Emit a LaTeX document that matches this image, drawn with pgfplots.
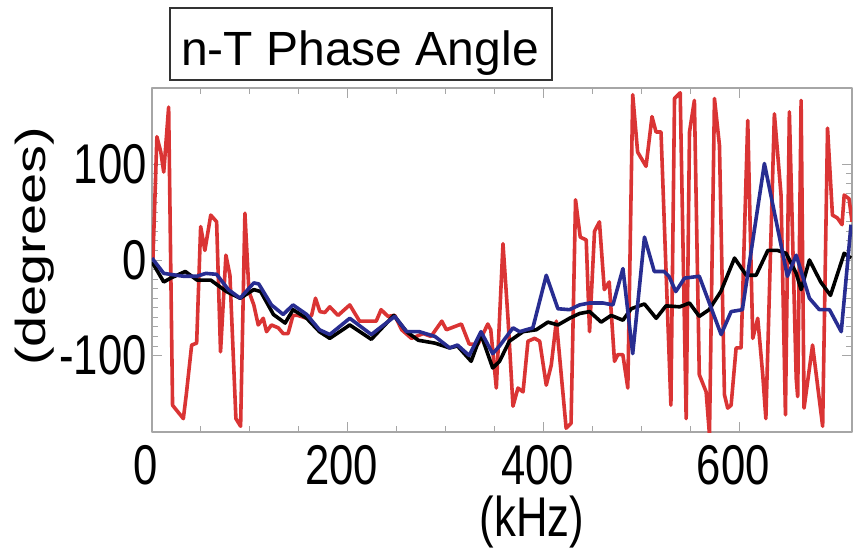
\documentclass[border=0pt]{standalone}
\usepackage{pgfplots}
\pgfplotsset{compat=1.18}
\usepackage{fontspec}
\setmainfont{Liberation Sans}
\newfontfamily\tickfont{Liberation Sans}[FakeStretch=0.78]
\newfontfamily\ylabfont{Liberation Sans}[FakeStretch=1.33]
\definecolor{redline}{RGB}{218,52,52}
\definecolor{blueline}{RGB}{40,45,145}
\begin{document}
\begin{tikzpicture}
\path[use as bounding box] (-76pt,-59pt) rectangle (351pt,216pt);
\begin{axis}[
  at={(0pt,0pt)}, anchor=south west,
  scale only axis, width=350pt, height=172pt,
  xmin=0, xmax=715, ymin=-180, ymax=180,
  xtick={0,200,400,600}, ytick={-100,0,100},
  minor x tick num=3, minor y tick num=9,
  tick align=inside, major tick length=5pt, minor tick length=3pt,
  tick style={gray!70, line width=0.5pt},
  axis line style={gray!70, line width=0.7pt},
  /pgf/number format/assume math mode=true,
  ticklabel style={font=\tickfont\fontsize{28}{32}\selectfont},
  xticklabel style={inner sep=0pt, anchor=north, yshift=-6.5pt, xshift=-3pt},
  yticklabel style={inner sep=0pt, anchor=east, xshift=-2.5pt},
  xlabel={(kHz)},
  xlabel style={font=\tickfont\fontsize{28}{32}\selectfont, at={(axis description cs:0.543,-0.305)}, anchor=base, inner sep=0pt},
  ylabel={(degrees)},
  ylabel style={font=\ylabfont\fontsize{21}{25}\selectfont, at={(axis description cs:-0.152,0.54)}, anchor=base, inner sep=0pt},
  line join=round,
]
\addplot[redline, line width=1.8pt] coordinates {
(0,0) (1,2) (5,129) (9,113) (12,92) (17,160) (21,-152) (32,-166) (35,-141) (40.5,-89) (45.6,-87)
(49.7,35) (54,10) (60,47) (66,40) (70,-96) (75.5,5) (79.6,-16) (85.7,-166) (90.5,-174) (94.9,49)
(99,-33) (104,-47) (108.5,-68) (113.6,-61) (117,-75) (122,-68) (129,-71) (134,-77) (139,-77) (144,-58)
(149,-58) (158,-61) (163,-58) (167,-40) (171.5,-54) (176.5,-55) (181.6,-49) (190,-58) (202,-47) (212,-64)
(229,-64) (234,-52) (241,-59) (248,-58) (255,-73) (265,-82) (277,-77) (285,-80) (296,-64) (300.7,-73)
(316,-67) (324,-88) (333,-88) (343,-67) (346,-73) (351.7,-134) (358.5,17) (363.6,-61) (368.7,-153) (373.8,-134)
(379,-138) (384,-85) (390.8,-82) (396,-85) (402.7,-131) (407.8,-110) (413,-64) (423,-176) (428,-171) (432.6,63)
(437.4,24) (443.5,21) (446.9,-75) (452,30) (457,40) (462,-31) (467,-23) (472.4,-106) (475.8,-99) (480.9,-99)
(486,-134) (491,173) (496,113) (504.6,98) (510.7,150) (514.8,134) (519.9,134) (530,-152) (533.7,169) (539.5,175)
(545.6,-166) (549,134) (554,167) (559,-120) (566,-138) (569.4,-183) (574.5,169) (579.6,120) (584.7,-141) (588,-155)
(591.5,-152) (596.6,-92) (601.7,-92) (608.5,146) (613.6,-82) (618.7,-61) (623.8,-120) (627,-166) (635.7,153) (642.5,68)
(647,-162) (651,155) (658,-124) (659.5,-143) (663,167) (666,-155) (674.7,-89) (685,-174) (690,138) (695,47)
(700,44) (704.8,37) (707,68) (712,64) (715,40)
};
\addplot[black, line width=1.8pt] coordinates {
(0,-2) (12,-23) (19,-19) (34,-12) (46,-21) (60,-21) (76,-33) (90,-40) (104,-31) (111,-33)
(124,-57) (136,-66) (144,-52) (158,-61) (171,-75) (181.6,-82) (202,-68) (224,-83) (247,-58) (260,-75)
(272,-84) (289,-87) (304,-92) (312,-90) (326,-106) (336,-78) (348,-113) (355,-106) (365,-85) (379,-75)
(392.5,-73) (404.4,-65) (414.6,-68) (426.5,-61) (436.7,-56) (447,-54) (458.8,-65) (469,-58) (481,-63) (489.5,-51)
(503,-46) (515,-61) (525,-48) (539,-49) (549,-45) (559,-59) (569,-52) (581,-33) (595,2) (607,-16)
(617,-16) (629,10) (639,10) (647.7,7) (658,-14) (663,-31) (671.5,0) (683,-23) (693,-37) (707,7) (714,2)
};
\addplot[blueline, line width=1.8pt] coordinates {
(0,2) (12,-14) (32,-17) (46,-17) (55,-14) (66,-15) (78,-31) (90,-40) (104,-24) (109,-25)
(122,-47) (134,-57) (144,-47) (158,-57) (171,-73) (181.6,-78) (202,-61) (224,-78) (248,-59) (260,-75)
(273,-75) (289,-80) (304,-92) (312,-89) (324,-100) (336,-75) (348,-98) (355,-90) (368.7,-71) (375.5,-75)
(389,-71) (402.7,-16) (414.6,-51) (426.5,-52) (436.7,-47) (447,-45) (460.6,-45) (470.8,-47) (481,-9) (491,-98)
(503,24) (513,-12) (523,-12) (528,-17) (535,-33) (543.9,-19) (559,-17) (581.3,-78) (591.5,-54) (603,-52)
(625.5,101) (649,-17) (658,5) (671.5,-40) (681.6,-52) (692,-52) (704,-75) (714,37)
};
\end{axis}
\draw[black!80, line width=1pt] (9pt,176pt) rectangle (200pt,212pt);
\node[anchor=base, inner sep=0pt] at (104pt,183pt) {\fontsize{24}{28}\selectfont n-T Phase Angle};
\end{tikzpicture}
\end{document}
